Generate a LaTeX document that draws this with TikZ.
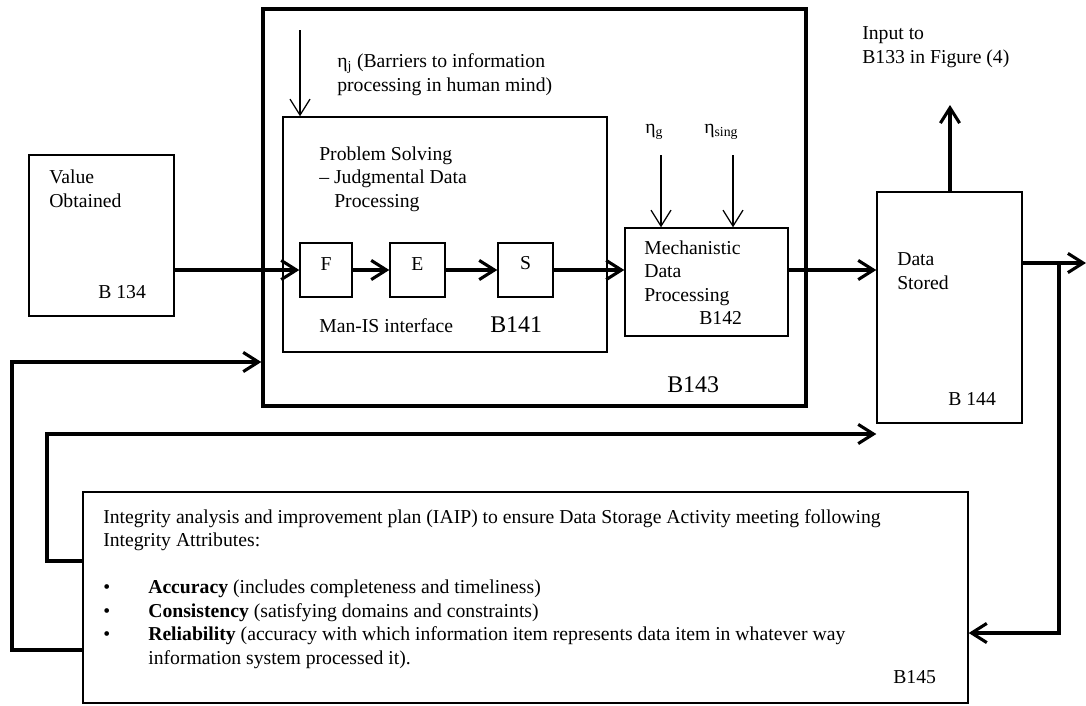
\documentclass[tikz,border=0pt]{standalone}
\usepackage{fontspec}
\setmainfont{Liberation Serif}
\usetikzlibrary{arrows.meta, positioning, fit}

\newcommand{\iaipbullet}{\makebox[1.125cm][l]{\textbullet}}

\begin{document}
\begin{tikzpicture}[
    x=0.025cm, y=-0.025cm,
    font=\fontsize{14}{16.7}\selectfont,
    blk/.style={draw, line width=1pt, inner sep=0pt},
    txt/.style={inner sep=0pt, anchor=base west, align=left},
    big/.style={txt, font=\fontsize{17}{20}\selectfont},
    flow/.style={line width=2.2pt, -{Straight Barb[length=3.8mm, width=4.8mm]}},
    thinflow/.style={line width=0.9pt, -{Straight Barb[length=4mm, width=5mm]}}
]
    \useasboundingbox (0,0) rectangle (1086,705);

    % boxes
    \node[blk, fit={(29,155) (174,316)}] (value) {};
    \node[blk, line width=2.4pt, fit={(263,9) (806,406)}] (sys) {};
    \node[blk, fit={(283,117) (607,352)}] (mis) {};
    \node[blk, fit={(300,243) (352,297)}] (F) {F};
    \node[blk, fit={(390,243) (445,297)}] (E) {E};
    \node[blk, fit={(498,243) (553,297)}] (S) {S};
    \node[blk, fit={(625,228) (788,336)}] (mech) {};
    \node[blk, fit={(877,192) (1022,423)}] (store) {};
    \node[blk, fit={(83,492) (968,703)}] (iaip) {};

    % texts (multi-line ones sit on the baseline of their last line)
    \node[txt] (vallbl) at (49,207) {Value\\Obtained};
    \node[txt] (b134) at (98,298) {B 134};
    \node[txt] (etaj) at (337,91) {η\textsubscript{j} (Barriers to information\\processing in human mind)};
    \node[txt] (pslbl) at (319,207) {Problem Solving\\– Judgmental Data\\\hspace*{0.375cm}Processing};
    \node[txt] (manis) at (319,332) {Man-IS interface};
    \node[big] (b141) at (490,332) {B141};
    \node[txt] (etag) at (645,133) {η\textsubscript{g}};
    \node[txt] (etasing) at (704,133) {η\textsubscript{sing}};
    \node[txt] (mechlbl) at (644,301) {Mechanistic\\Data\\Processing};
    \node[txt] (b142) at (699,324) {B142};
    \node[big] (b143) at (667,392) {B143};
    \node[txt] (inlbl) at (862,63) {Input to\\B133 in Figure (4)};
    \node[txt] (storelbl) at (897,289) {Data\\Stored};
    \node[txt] (b144) at (948,405) {B 144};
    \node[txt] (iaiplbl) at (103,664) {Integrity analysis and improvement plan (IAIP) to ensure Data Storage Activity meeting following\\
        Integrity Attributes:\\[16.7pt]
        \iaipbullet\textbf{Accuracy} (includes completeness and timeliness)\\
        \iaipbullet\textbf{Consistency} (satisfying domains and constraints)\\
        \iaipbullet\textbf{Reliability} (accuracy with which information item represents data item in whatever way\\
        \hspace*{1.125cm}information system processed it).};
    \node[txt] (b145) at (893,683) {B145};

    % free ends
    \coordinate (etajtop) at (300,30);
    \coordinate (etagtop) at (661,155);
    \coordinate (etasingtop) at (733,155);
    \coordinate (up) at (950,105);
    \coordinate (out) at (1086,263);
    \coordinate (tap) at (1059,263);
    \coordinate (fbone) at (47,434);
    \coordinate (fbtwo) at (12,362);

    % barriers
    \draw[thinflow] (etajtop) -- (etajtop |- mis.north);
    \draw[thinflow] (etagtop) -- (etagtop |- mech.north);
    \draw[thinflow] (etasingtop) -- (etasingtop |- mech.north);

    % main flow
    \draw[flow] (value.east |- F.west) -- (F.west);
    \draw[flow] (F) -- (E);
    \draw[flow] (E) -- (S);
    \draw[flow] (S.east) -- (S.east -| mech.west);
    \draw[flow] (mech.east |- F.west) -- (store.west |- F.west);
    \draw[flow] (store.north -| up) -- (up);
    \draw[flow] (store.east |- out) -- (out);

    % feedback
    \draw[flow] (tap) |- (iaip.east |- 0,633);
    \draw[flow] (iaip.west |- 0,561) -| (fbone) -- (store.west |- fbone);
    \draw[flow] (iaip.west |- 0,650) -| (fbtwo) -- (sys.west |- fbtwo);
\end{tikzpicture}
\end{document}
